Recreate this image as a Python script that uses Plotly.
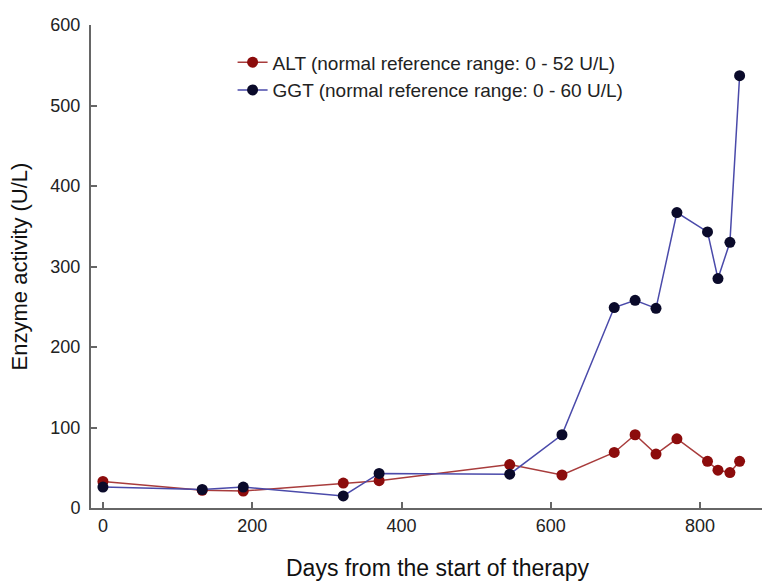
import plotly.graph_objects as go

days = [0, 133, 188, 322, 370, 545, 615, 685, 713, 741, 769, 810, 824, 840, 853]
alt_values = [33, 22, 21, 31, 34, 54, 41, 69, 91, 67, 86, 58, 47, 44, 58]
ggt_values = [26, 23, 26, 15, 43, 42, 91, 249, 258, 248, 367, 343, 285, 330, 537]
x_ticks = [0, 200, 400, 600, 800]
y_ticks = [0, 100, 200, 300, 400, 500, 600]

FONT = "Arial, Liberation Sans, sans-serif"

fig = go.Figure()
fig.add_trace(go.Scatter(
    x=days, y=alt_values, mode="lines+markers",
    name="ALT (normal reference range: 0 - 52 U/L)",
    line=dict(color="#a83c3c", width=1.5),
    marker=dict(color="#8c0c0c", size=11),
))
fig.add_trace(go.Scatter(
    x=days, y=ggt_values, mode="lines+markers",
    name="GGT (normal reference range: 0 - 60 U/L)",
    line=dict(color="#4a4aaa", width=1.5),
    marker=dict(color="#0a0a2a", size=11),
))

axis_common = dict(
    showline=True, linecolor="#666666", linewidth=2,
    ticks="inside", ticklen=6, tickwidth=1.5, tickcolor="#666666",
    showgrid=False, zeroline=False,
    tickfont=dict(family=FONT, size=18, color="#222222"),
)

fig.update_xaxes(range=[-16, 883], tickvals=x_ticks, **axis_common)
fig.update_yaxes(
    range=[0, 600], tickvals=y_ticks, ticklabelstandoff=5,
    title=dict(text="Enzyme activity (U/L)",
               font=dict(family=FONT, size=22, color="#111111"), standoff=17),
    **axis_common,
)

fig.add_annotation(
    text="Days from the start of therapy", xref="paper", yref="paper",
    x=0.517, y=-0.124, xanchor="center", yanchor="middle", showarrow=False,
    font=dict(family=FONT, size=23, color="#111111"),
)

fig.update_layout(
    width=762, height=582,
    margin=dict(l=91, r=0, t=25, b=74),
    plot_bgcolor="white", paper_bgcolor="white",
    font=dict(family=FONT, color="#111111"),
    legend=dict(
        x=0.211, y=0.962, xanchor="left", yanchor="top",
        font=dict(family=FONT, size=19, color="#222222"),
        bgcolor="rgba(0,0,0,0)", tracegroupgap=0,
    ),
)

fig.write_html("out.html")
